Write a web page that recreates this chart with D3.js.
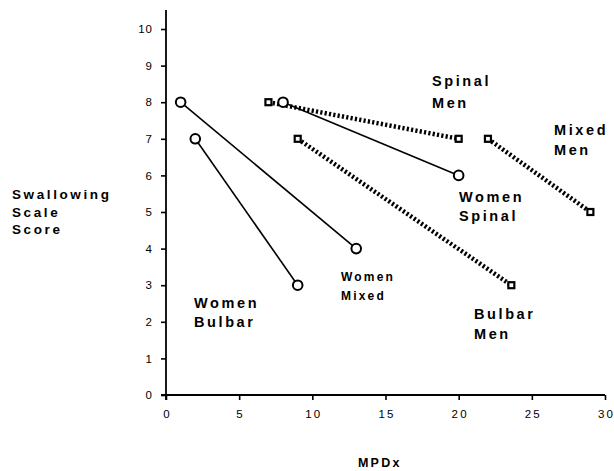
<!DOCTYPE html>
<html>
<head>
<meta charset="utf-8">
<script src="https://cdn.jsdelivr.net/npm/d3@7"></script>
<style>
  body { margin: 0; background: #fff; }
  svg { display: block; font-family: "Liberation Sans", Arial, Helvetica, sans-serif; }
</style>
</head>
<body>
<svg id="chart" width="614" height="471"></svg>
<script>
// ---- data ----
const seriesNames = ["Women Bulbar", "Women Mixed", "Women Spinal", "Spinal Men", "Bulbar Men", "Mixed Men"];
const seriesSex   = ["women", "women", "women", "men", "men", "men"];
const startX = [2, 1, 8, 7, 9, 22];
const startY = [7, 8, 8, 8, 7, 7];
const endX   = [9, 13, 20, 20, 23.6, 29];
const endY   = [3, 4, 6, 7, 3, 5];
const xTicks = [0, 5, 10, 15, 20, 25, 30];
const yTicks = [0, 1, 2, 3, 4, 5, 6, 7, 8, 9, 10];
const xTitle = "MPDx";
const yTitleLines = ["Swallowing", "Scale", "Score"];

// ---- layout ----
const svg = d3.select("#chart");
const x = d3.scaleLinear().domain([0, 30]).range([166, 605]);
const y = d3.scaleLinear().domain([0, 10]).range([395, 29]);

// label placements (pixel layout) per series
const labelLayout = {
  "Women Bulbar": { x: 194, y: 308, lh: 19, size: 14.5, lines: ["Women", "Bulbar"] },
  "Women Mixed":  { x: 341, y: 281, lh: 19, size: 12,   lines: ["Women", "Mixed"] },
  "Women Spinal": { x: 459, y: 202, lh: 19, size: 14.5, lines: ["Women", "Spinal"] },
  "Spinal Men":   { x: 432, y: 86,  lh: 22, size: 14.5, lines: ["Spinal", "Men"] },
  "Bulbar Men":   { x: 474, y: 319, lh: 20, size: 14.5, lines: ["Bulbar", "Men"] },
  "Mixed Men":    { x: 554, y: 135, lh: 20, size: 14.5, lines: ["Mixed", "Men"] }
};

// ---- axes ----
const gy = svg.append("g").attr("transform", `translate(${x(0)},0)`)
  .call(d3.axisLeft(y).tickValues(yTicks).tickSize(5).tickSizeOuter(0).tickPadding(8));
gy.select(".domain").remove();
gy.selectAll(".tick line").attr("stroke", "#000").attr("stroke-width", 1.6);
gy.selectAll(".tick text").attr("font-size", 11.5).attr("fill", "#000")
  .attr("letter-spacing", 1);

const gx = svg.append("g").attr("transform", `translate(0,${y(0)})`)
  .call(d3.axisBottom(x).tickValues(xTicks).tickSize(5).tickSizeOuter(0).tickPadding(10));
gx.select(".domain").remove();
gx.selectAll(".tick line").attr("stroke", "#000").attr("stroke-width", 1.6);
gx.selectAll(".tick text").attr("font-size", 11.5).attr("fill", "#000")
  .attr("letter-spacing", 2.2).attr("dx", 1);

// axis lines
svg.append("line").attr("x1", x(0)).attr("x2", x(0)).attr("y1", 10).attr("y2", y(0) + 5)
  .attr("stroke", "#000").attr("stroke-width", 1.8);
svg.append("line").attr("x1", x(0) - 5).attr("x2", x(30)).attr("y1", y(0)).attr("y2", y(0))
  .attr("stroke", "#000").attr("stroke-width", 1.8);

// ---- series ----
const data = seriesNames.map((name, i) => ({
  name, sex: seriesSex[i], x0: startX[i], y0: startY[i], x1: endX[i], y1: endY[i]
}));

const men = data.filter(d => d.sex === "men");
const women = data.filter(d => d.sex === "women");

svg.selectAll("line.men").data(men).enter().append("line")
  .attr("class", "men")
  .attr("x1", d => x(d.x0)).attr("y1", d => y(d.y0))
  .attr("x2", d => x(d.x1)).attr("y2", d => y(d.y1))
  .attr("stroke", "#000").attr("stroke-width", 4.5)
  .attr("stroke-dasharray", "2.2,2.2");

men.forEach(d => {
  [[d.x0, d.y0], [d.x1, d.y1]].forEach(p => {
    svg.append("rect")
      .attr("x", x(p[0]) - 3).attr("y", y(p[1]) - 3)
      .attr("width", 6).attr("height", 6)
      .attr("fill", "#fff").attr("stroke", "#000").attr("stroke-width", 2.2);
  });
});

svg.selectAll("line.women").data(women).enter().append("line")
  .attr("class", "women")
  .attr("x1", d => x(d.x0)).attr("y1", d => y(d.y0))
  .attr("x2", d => x(d.x1)).attr("y2", d => y(d.y1))
  .attr("stroke", "#000").attr("stroke-width", 1.6);

women.forEach(d => {
  [[d.x0, d.y0], [d.x1, d.y1]].forEach(p => {
    svg.append("circle")
      .attr("cx", x(p[0])).attr("cy", y(p[1])).attr("r", 4.8)
      .attr("fill", "#fff").attr("stroke", "#000").attr("stroke-width", 2);
  });
});

// ---- series labels ----
data.forEach(d => {
  const L = labelLayout[d.name];
  const t = svg.append("text")
    .attr("x", L.x).attr("y", L.y)
    .attr("font-size", L.size).attr("font-weight", "bold")
    .attr("letter-spacing", L.size > 13 ? 2.6 : 2.2).attr("fill", "#000");
  L.lines.forEach((ln, k) => {
    t.append("tspan").attr("x", L.x).attr("y", L.y + k * L.lh).text(ln);
  });
});

// ---- axis titles ----
const yt = svg.append("text").attr("font-size", 13.5).attr("font-weight", "bold")
  .attr("letter-spacing", 2.6).attr("fill", "#000");
yTitleLines.forEach((ln, k) => {
  yt.append("tspan").attr("x", 12).attr("y", 199 + k * 17.5).text(ln);
});

svg.append("text").attr("x", 358).attr("y", 467)
  .attr("font-size", 12.5).attr("font-weight", "bold").attr("letter-spacing", 2.2)
  .attr("fill", "#000").text(xTitle);
</script>
</body>
</html>
